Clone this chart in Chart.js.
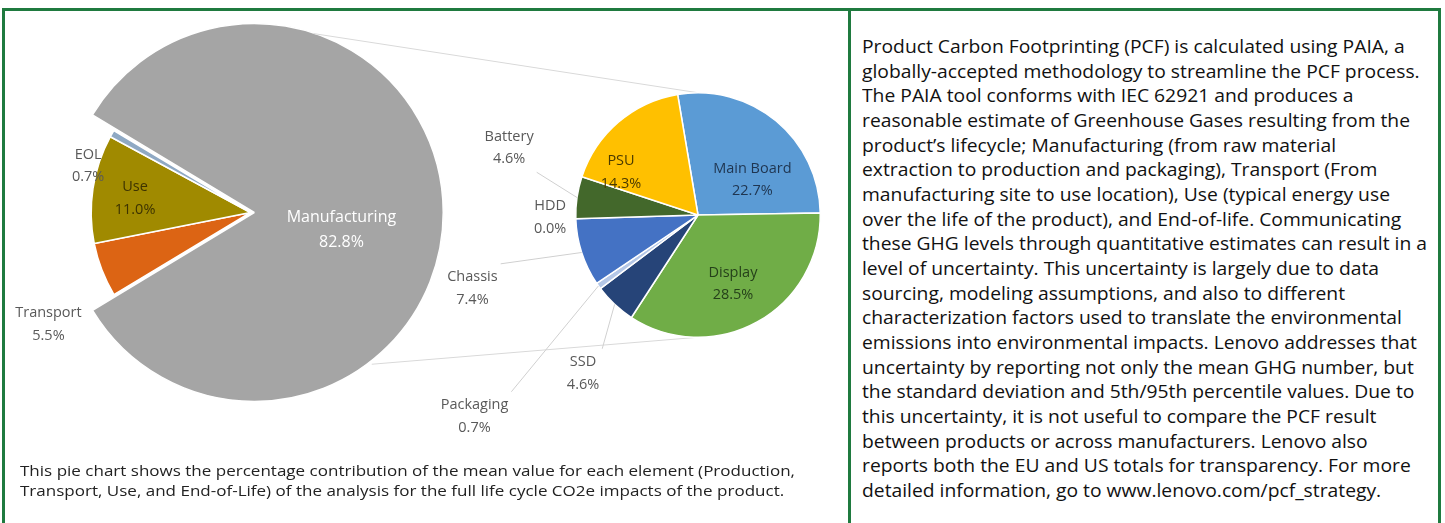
<!DOCTYPE html>
<html lang="en">
<head>
<meta charset="UTF-8" />
<title>Lenovo PCF – Pie of Pie</title>
<script src="https://cdn.jsdelivr.net/npm/chart.js"></script>
<style>
  body { margin: 0; background: #fff; font-family: 'Open Sans', sans-serif; width: 1445px; height: 523px; overflow: hidden; position: relative; }
  .frame { position: absolute; left: 2px; top: 8px; width: 1433px; height: 530px; border: 3px solid #1f7a3f; border-bottom: none; }
  .divider { position: absolute; left: 848px; top: 8px; width: 3px; height: 520px; background: #1f7a3f; }
  canvas { position: absolute; left: 0; top: 0; }
  .caption { position: absolute; left: 20px; top: 461px; font-size: 14px; line-height: 20px; color: #222; white-space: pre; transform-origin: left top; }
  .para { position: absolute; left: 862px; top: 34px; font-size: 19px; line-height: 24.67px; color: #111; white-space: pre; transform-origin: left top; }
</style>
</head>
<body>
<div class="frame"></div>
<div class="divider"></div>
<canvas id="leftPie" width="846" height="460"></canvas>
<canvas id="rightPie" width="846" height="460"></canvas>

<div class="caption" id="caption"><span id="capLine">This pie chart shows the percentage contribution of the mean value for each element (Production,</span>
Transport, Use, and End-of-Life) of the analysis for the full life cycle CO2e impacts of the product.</div>

<div class="para" id="para">Product Carbon Footprinting (PCF) is calculated using PAIA, a
globally-accepted methodology to streamline the PCF process.
The PAIA tool conforms with IEC 62921 and produces a
reasonable estimate of Greenhouse Gases resulting from the
product’s lifecycle; Manufacturing (from raw material
extraction to production and packaging), Transport (From
manufacturing site to use location), Use (typical energy use
over the life of the product), and End-of-life. Communicating
<span id="paraLine">these GHG levels through quantitative estimates can result in a</span>
level of uncertainty. This uncertainty is largely due to data
sourcing, modeling assumptions, and also to different
characterization factors used to translate the environmental
emissions into environmental impacts. Lenovo addresses that
uncertainty by reporting not only the mean GHG number, but
the standard deviation and 5th/95th percentile values. Due to
this uncertainty, it is not useful to compare the PCF result
between products or across manufacturers. Lenovo also
reports both the EU and US totals for transparency. For more
detailed information, go to www.lenovo.com/pcf_strategy.</div>

<script>
  // life cycle phases (first pie)
  const phaseLabels = ['Transport', 'Use', 'EOL', 'Manufacturing'];
  const phaseValues = [5.5, 11.0, 0.7, 82.8];
  const phaseColors = ['#dc6414', '#a08a00', '#8fa9c4', '#a5a5a5'];

  // manufacturing breakdown (second pie), % of total
  const partLabels = ['Main Board', 'Display', 'SSD', 'Packaging', 'Chassis', 'HDD', 'Battery', 'PSU'];
  const partValues = [22.7, 28.5, 4.6, 0.7, 7.4, 0.0, 4.6, 14.3];
  const partColors = ['#5b9bd5', '#70ad47', '#264478', '#b4c7e7', '#4472c4', '#9e480e', '#43682b', '#ffc000'];

  const grayOffset = 15;

  // label placement: angle (deg, clockwise from 12 o'clock) and distance as share of radius
  const phasePlace = {
    'Transport': { a: 241, k: 1.45, color: '#595959' },
    'Use': { a: 277, k: 0.73, color: '#3d3300' },
    'EOL': { a: 286, k: 1.06, color: '#595959' },
    'Manufacturing': { a: 101, k: 0.5, color: '#ffffff', size: 16 }
  };
  const partPlace = {
    'Main Board': { a: 57, k: 0.53, color: '#1f3550' },
    'Display': { a: 153, k: 0.63, color: '#25401a' },
    'SSD': { a: 216, k: 1.6, color: '#595959', leader: true },
    'Packaging': { a: 228, k: 2.46, color: '#595959', leader: true },
    'Chassis': { a: 252, k: 1.94, color: '#595959', leader: true },
    'HDD': { a: 269, k: 1.21, color: '#595959' },
    'Battery': { a: 289.6, k: 1.64, color: '#595959', leader: true },
    'PSU': { a: 299, k: 0.72, color: '#4a3a00' }
  };

  function polar(cx, cy, r, deg) {
    const t = deg * Math.PI / 180;
    return { x: cx + r * Math.sin(t), y: cy - r * Math.cos(t) };
  }

  function labelPlugin(id, names, values, place) {
    return {
      id: id,
      afterDatasetsDraw(chart) {
        const ctx = chart.ctx;
        const meta = chart.getDatasetMeta(0);
        ctx.save();
        ctx.textAlign = 'center';
        ctx.textBaseline = 'middle';
        meta.data.forEach((arc, i) => {
          const p = place[names[i]];
          if (!p) return;
          const size = p.size || 14.5;
          const pos = polar(arc.x, arc.y, arc.outerRadius * p.k, p.a);
          const lines = [names[i], values[i].toFixed(1) + '%'];
          const lh = size * 1.55;
          ctx.font = size + 'px "Open Sans", sans-serif';
          if (p.leader) {
            const mid = ((arc.startAngle + arc.endAngle) / 2) * 180 / Math.PI + 90;
            const edge = polar(arc.x, arc.y, arc.outerRadius, mid);
            const w = Math.max(...lines.map(s => ctx.measureText(s).width)) / 2 + 3;
            const h = lh + 2;
            const sx = Math.min(Math.max(edge.x, pos.x - w), pos.x + w);
            const sy = Math.min(Math.max(edge.y, pos.y - h), pos.y + h);
            ctx.strokeStyle = '#d0d0d0';
            ctx.lineWidth = 1;
            ctx.beginPath();
            ctx.moveTo(sx, sy);
            ctx.lineTo(edge.x, edge.y);
            ctx.stroke();
          }
          ctx.fillStyle = p.color;
          ctx.fillText(lines[0], pos.x, pos.y - lh / 2);
          ctx.fillText(lines[1], pos.x, pos.y + lh / 2);
        });
        ctx.restore();
      }
    };
  }

  // the small phase slices are drawn with a smaller radius, like the source
  const shrinkSmall = {
    id: 'shrinkSmall',
    afterDatasetsUpdate(chart) {
      const meta = chart.getDatasetMeta(0);
      const base = meta.controller.outerRadius;
      meta.data.forEach((arc, i) => {
        if (phaseLabels[i] !== 'Manufacturing') arc.outerRadius = base * 0.86;
      });
    }
  };

  const leftChart = new Chart(document.getElementById('leftPie'), {
    type: 'pie',
    data: {
      labels: phaseLabels,
      datasets: [{
        data: phaseValues,
        backgroundColor: phaseColors,
        borderColor: '#ffffff',
        borderWidth: 1.5,
        offset: phaseLabels.map(l => l === 'Manufacturing' ? grayOffset : 0)
      }]
    },
    options: {
      responsive: false,
      animation: false,
      rotation: 239,
      layout: { padding: { left: 57, top: 19, right: 402, bottom: 54 } },
      plugins: { legend: { display: false }, tooltip: { enabled: false } }
    },
    plugins: [shrinkSmall, labelPlugin('phaseLabels', phaseLabels, phaseValues, phasePlace)]
  });

  // connector lines between the two pies
  const connectors = {
    id: 'connectors',
    beforeDatasetsDraw(chart) {
      const lm = leftChart.getDatasetMeta(0);
      const g = lm.data[phaseLabels.indexOf('Manufacturing')];
      const gMid = (g.startAngle + g.endAngle) / 2;
      const gx = g.x + grayOffset * Math.cos(gMid), gy = g.y + grayOffset * Math.sin(gMid);
      const r = chart.getDatasetMeta(0).data[0];
      const a1 = polar(gx, gy, g.outerRadius, 15);
      const a2 = polar(gx, gy, g.outerRadius, 145);
      const b1 = polar(r.x, r.y, r.outerRadius, 0);
      const b2 = polar(r.x, r.y, r.outerRadius, 180);
      const ctx = chart.ctx;
      ctx.save();
      ctx.strokeStyle = '#d9d9d9';
      ctx.lineWidth = 1;
      ctx.beginPath();
      ctx.moveTo(a1.x, a1.y); ctx.lineTo(b1.x, b1.y);
      ctx.moveTo(a2.x, a2.y); ctx.lineTo(b2.x, b2.y);
      ctx.stroke();
      ctx.restore();
    }
  };

  new Chart(document.getElementById('rightPie'), {
    type: 'pie',
    data: {
      labels: partLabels,
      datasets: [{
        data: partValues,
        backgroundColor: partColors,
        borderColor: '#ffffff',
        borderWidth: 1.5
      }]
    },
    options: {
      responsive: false,
      animation: false,
      rotation: -9.6,
      layout: { padding: { left: 575, top: 92, right: 25, bottom: 122 } },
      plugins: { legend: { display: false }, tooltip: { enabled: false } }
    },
    plugins: [connectors, labelPlugin('partLabels', partLabels, partValues, partPlace)]
  });

  // squeeze the text blocks to the width of the source lines
  function fit(boxId, lineId, target) {
    const w = document.getElementById(lineId).getBoundingClientRect().width;
    document.getElementById(boxId).style.transform = 'scaleX(' + (target / w) + ')';
  }
  fit('para', 'paraLine', 565);
  fit('caption', 'capLine', 775);
</script>
</body>
</html>
